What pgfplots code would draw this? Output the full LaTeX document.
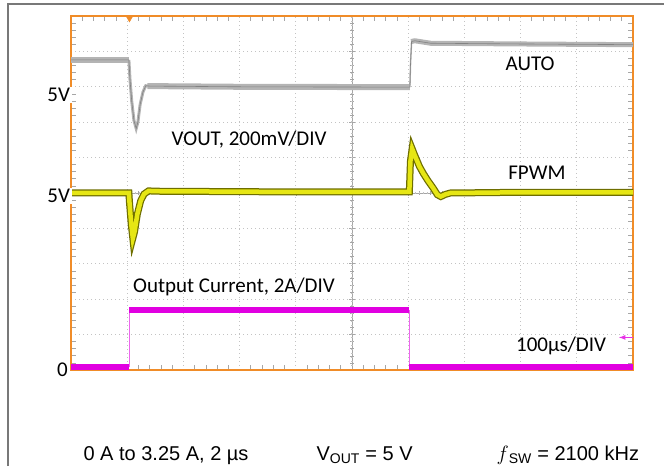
\documentclass[border=0pt]{standalone}
\usepackage{fontspec}
\setmainfont{Liberation Sans}
\newfontfamily\calfont{Carlito}
\usepackage{pgfplots}
\pgfplotsset{compat=1.18}

\definecolor{scopeorange}{RGB}{240,140,40}
\definecolor{gridgray}{RGB}{195,195,195}
\definecolor{autogray}{RGB}{180,180,180}
\definecolor{autodark}{RGB}{130,130,130}
\definecolor{fpwmyel}{RGB}{230,230,20}
\definecolor{fpwmdark}{RGB}{110,110,0}
\definecolor{curmag}{RGB}{225,0,225}
\definecolor{framegray}{RGB}{120,120,120}

\begin{document}
\begin{tikzpicture}[x=1pt,y=1pt]
\useasboundingbox (0,0) rectangle (664,466);
\draw[framegray, line width=2pt] (8,0) -- (8,461.5) -- (664,461.5);
% centre cross with its own tick marks
\begin{axis}[
  at={(71pt,96pt)}, anchor=south west,
  scale only axis, width=562pt, height=354pt,
  xmin=-500, xmax=500, ymin=-5, ymax=5,
  axis lines=middle,
  axis line style={gray!70, line width=0.7pt, -},
  xtick={-500,-400,...,500}, ytick={-5,-4,...,5},
  xticklabels={}, yticklabels={},
  minor x tick num=4, minor y tick num=4,
  major tick length=6pt, minor tick length=4pt,
  tick align=center,
  tick style={gray!70, line width=0.6pt},
]
\end{axis}
\begin{axis}[
  at={(71pt,96pt)}, anchor=south west,
  scale only axis, width=562pt, height=354pt,
  xmin=0, xmax=1000, ymin=0, ymax=10,
  xtick={0,100,...,1000}, ytick={0,1,...,10},
  xticklabels={}, yticklabels={},
  minor x tick num=4, minor y tick num=4,
  major tick length=0pt, minor tick length=5pt,
  tick style={gray!70, line width=0.7pt},
  tick pos=both,
  grid=major,
  major grid style={gridgray, line width=1.2pt, dash pattern=on 1pt off 3pt},
  axis line style={scopeorange, line width=2pt},
  clip=false,
]
% AUTO (grey)
\addplot[autogray, line width=6pt] coordinates {(0,8.76)(103,8.76)};
\addplot[autogray, line width=3pt] coordinates {(103,8.76)(105,8.2)(108,7.6)(112,7.05)(116,6.82)(119,7.0)(123,7.5)(128,7.85)(133,8.03)(140,8.02)};
\addplot[autogray, line width=6pt] coordinates {(136,8.02)(300,8.0)(603,7.99)};
\addplot[autogray, line width=1.5pt] coordinates {(603,7.99)(604,8.6)(606,9.28)};
\addplot[autogray, line width=5pt] coordinates {(605,9.28)(612,9.30)(640,9.23)(800,9.21)(1000,9.19)};
\addplot[autodark, line width=0.6pt] coordinates {(0,8.76)(103,8.76)(105,8.2)(108,7.6)(112,7.05)(116,6.82)(119,7.0)(123,7.5)(128,7.85)(133,8.03)(140,8.02)(300,8.0)(603,7.99)(604,8.6)(606,9.28)(612,9.30)(640,9.23)(800,9.21)(1000,9.19)};

% FPWM (yellow)
\addplot[fpwmdark, line width=7pt] coordinates {(0,5.0)(103,5.0)(104,4.75)(107,4.15)(110,3.72)(113,3.9)(118,4.4)(124,4.78)(130,4.97)(138,5.06)(150,5.05)(400,5.03)(602,5.03)(604,5.9)(607,6.25)(612,6.05)(620,5.75)(627,5.55)(635,5.35)(644,5.15)(652,4.95)(658,4.9)(666,4.96)(675,5.0)(800,5.02)(1000,5.02)};
\addplot[fpwmyel, line width=4.5pt] coordinates {(0,5.0)(103,5.0)(104,4.75)(107,4.15)(110,3.72)(113,3.9)(118,4.4)(124,4.78)(130,4.97)(138,5.06)(150,5.05)(400,5.03)(602,5.03)(604,5.9)(607,6.25)(612,6.05)(620,5.75)(627,5.55)(635,5.35)(644,5.15)(652,4.95)(658,4.9)(666,4.96)(675,5.0)(800,5.02)(1000,5.02)};

% Output current (magenta)
\addplot[curmag!60, line width=1pt] coordinates {(104,0.08)(104,1.7)};
\addplot[curmag!60, line width=1pt] coordinates {(602,1.7)(602,0.08)};
\addplot[curmag, line width=6pt] coordinates {(0,0.09)(104,0.09)};
\addplot[curmag, line width=6pt] coordinates {(104,1.7)(602,1.7)};
\addplot[curmag, line width=6pt] coordinates {(602,0.08)(1000,0.08)};

% trigger marker
\addplot[only marks, mark=triangle*, mark size=3.5pt, mark options={rotate=180, fill=scopeorange, draw=scopeorange}] coordinates {(104,9.93)};
% channel marker arrow
\draw[curmag!80, line width=1.2pt, -latex] (axis cs:1000,0.92) -- (axis cs:975,0.92);

% annotations
\node[font=\calfont\fontsize{21}{24}\selectfont] at (axis cs:817,8.64) {AUTO};
\node[font=\calfont\fontsize{21}{24}\selectfont] at (axis cs:317,6.5) {VOUT, 200mV/DIV};
\node[font=\calfont\fontsize{21}{24}\selectfont] at (axis cs:829,5.56) {FPWM};
\node[font=\calfont\fontsize{21}{24}\selectfont] at (axis cs:290,2.34) {Output Current, 2A/DIV};
\node[font=\calfont\fontsize{21}{24}\selectfont] at (axis cs:872,0.69) {100µs/DIV};

\node[font=\calfont\fontsize{21}{24}\selectfont, anchor=east, fill=white, inner xsep=2pt, inner ysep=1pt] at (axis cs:2,7.77) {5V};
\node[font=\calfont\fontsize{21}{24}\selectfont, anchor=east, fill=white, inner xsep=2pt, inner ysep=1pt] at (axis cs:2,4.92) {5V};
\node[font=\calfont\fontsize{21}{24}\selectfont, anchor=east, inner xsep=2pt, inner ysep=1pt] at (axis cs:-2,0.0) {0};
\end{axis}

\node[anchor=base west, font=\fontsize{20}{24}\selectfont] at (80,6) {0 A to 3.25 A, 2 µs};
\node[anchor=base west, font=\fontsize{20}{24}\selectfont] at (313,6) {V\textsubscript{OUT} = 5 V};
\node[anchor=base west, font=\fontsize{20}{24}\selectfont] at (493,6) {$f$\textsubscript{SW} = 2100 kHz};
\end{tikzpicture}
\end{document}
